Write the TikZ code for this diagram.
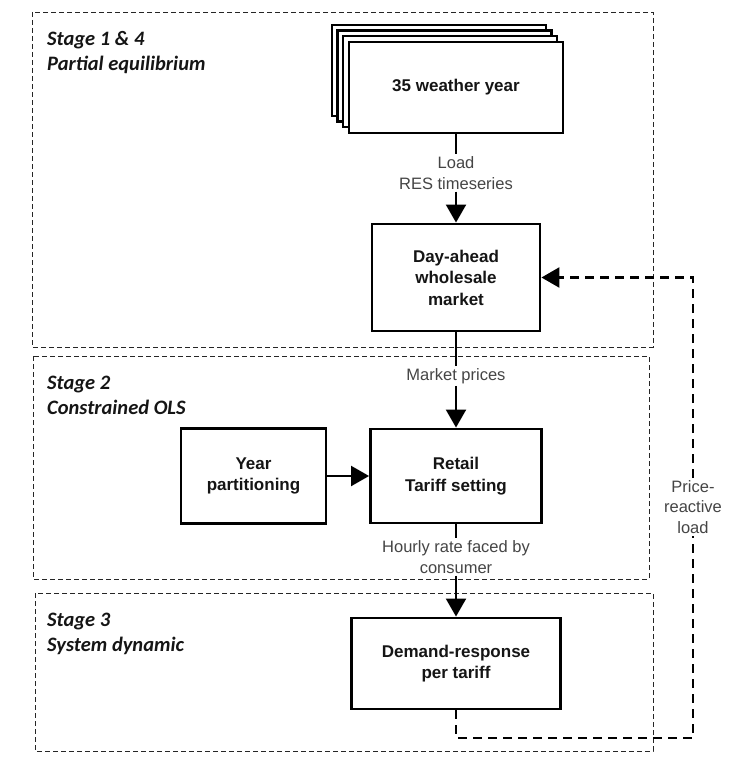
\documentclass[tikz,border=0pt]{standalone}
\usepackage{fontspec}
\setmainfont{Liberation Sans}
\newfontfamily\stagefont{Carlito}
\usetikzlibrary{arrows.meta}
\definecolor{txt}{HTML}{151515}
\definecolor{lbl}{HTML}{454545}
\tikzset{
  stagebox/.style={draw=black!85, line width=0.9pt, dash pattern=on 5pt off 3pt},
  stagelbl/.style={anchor=west, inner sep=0pt, align=left, text=txt,
    font=\stagefont\bfseries\itshape\fontsize{20.5}{25}\selectfont},
  procbox/.style={draw=black, line width=2.9pt, fill=white, align=center, text=txt,
    font=\bfseries\fontsize{17}{21.5}\selectfont},
  conlbl/.style={fill=white, inner sep=2pt, align=center, text=lbl,
    font=\fontsize{16.5}{20.5}\selectfont},
  conn/.style={line width=2.2pt, draw=black},
  arr/.style={conn, -{Triangle[width=20pt,length=18pt]}},
  fb/.style={line width=2.6pt, dash pattern=on 9pt off 6pt},
  fbarr/.style={fb, -{Triangle[width=20pt,length=18pt]}}
}
\begin{document}
\begin{tikzpicture}[x=1pt,y=-1pt]
\useasboundingbox (0,0) rectangle (729,760);
% stage boxes
\draw[stagebox] (32,12) rectangle (653,347);
\draw[stagebox] (33,356) rectangle (649,579);
\draw[stagebox] (35,593) rectangle (653,751);
\node[stagelbl] (s1) at (47,52.5) {Stage 1 \& 4\\Partial equilibrium};
\node[stagelbl] (s2) at (47,395) {Stage 2\\Constrained OLS};
\node[stagelbl] (s3) at (47,633.5) {Stage 3\\System dynamic};
% stacked weather-year boxes
\foreach \d in {17,11.5,6}{
  \draw[line width=2.9pt, fill=white] (349-\d,42-\d) rectangle (563-\d,133-\d);
}
\node[procbox, minimum width=214pt, minimum height=91pt] (wy) at (456,87.5) {35 weather year};
% process boxes
\node[procbox, minimum width=168pt, minimum height=107pt] (day) at (456,277.5) {Day-ahead\\wholesale\\market};
\node[procbox, minimum width=171pt, minimum height=94pt] (ret) at (456,476) {Retail\\Tariff setting};
\node[procbox, minimum width=145pt, minimum height=95pt] (yp) at (253.5,476) {Year\\partitioning};
\node[procbox, minimum width=209pt, minimum height=91pt] (dr) at (456,663.5) {Demand-response\\per tariff};
% connector labels
\node[conlbl] (l1) at (456,173) {Load\\RES timeseries};
\node[conlbl] (l2) at (456,376) {Market prices};
\node[conlbl] (l3) at (456,557) {Hourly rate faced by\\consumer};
\node[conlbl] (l4) at (693,507) {Price-\\reactive\\load};
% connectors
\draw[conn] (wy.south) -- (l1.north);
\draw[arr] (l1.south) -- (day.north);
\draw[conn] (day.south) -- (l2.north);
\draw[arr] (l2.south) -- (ret.north);
\draw[arr] (yp.east) -- (ret.west);
\draw[conn] (ret.south) -- (l3.north);
\draw[arr] (l3.south) -- (dr.north);
% feedback loop
\coordinate (fbA) at (456,738);
\coordinate (fbB) at (693,738);
\coordinate (fbC) at (693,277.5);
\draw[fb] (dr.south) -- (fbA) -- (fbB) -- (l4.south);
\draw[fbarr] (l4.north) -- (fbC) -- (day.east);
\end{tikzpicture}
\end{document}
